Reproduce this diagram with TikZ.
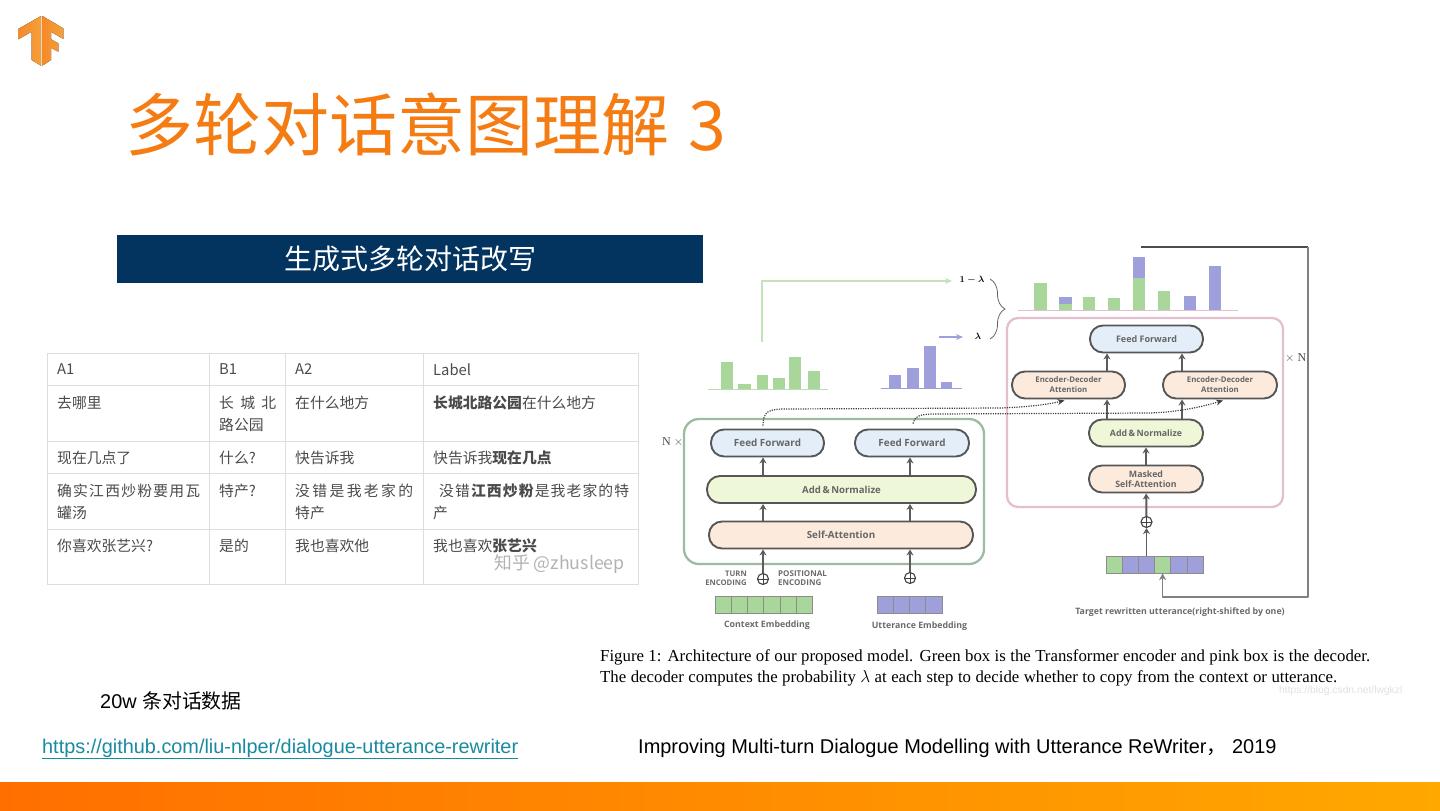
\documentclass[tikz,border=0pt]{standalone}
\usepackage{fontspec}
\setmainfont{Liberation Sans}
\newfontfamily\cjk{Noto Sans CJK SC}
\newfontfamily\capfont{Liberation Serif}
\newfontfamily\boxfont{Open Sans}
\usetikzlibrary{arrows.meta,decorations.pathreplacing}
\definecolor{tforange}{HTML}{F57C12}
\definecolor{logoleft}{HTML}{F58A2A}
\definecolor{logoright}{HTML}{F5A03C}
\definecolor{barleft}{HTML}{FF6F00}
\definecolor{barright}{HTML}{FFA800}
\definecolor{bannerblue}{HTML}{03345F}
\definecolor{gridgray}{HTML}{DEDEDE}
\definecolor{cellink}{HTML}{4A4A4A}
\definecolor{barpurple}{HTML}{9F9FDC}
\definecolor{bargreen}{HTML}{A9D69B}
\definecolor{blockedge}{HTML}{565656}
\definecolor{arrowgray}{HTML}{5C5C5C}
\definecolor{fillblue}{HTML}{E3EEF9}
\definecolor{fillgreen}{HTML}{EEF7D8}
\definecolor{fillpeach}{HTML}{FCEBDD}
\definecolor{encedge}{HTML}{9DBB9D}
\definecolor{decedge}{HTML}{E3BFD0}
\definecolor{linkteal}{HTML}{1A8AA0}
\def\sz#1{\fontsize{#1}{#1}\selectfont}
\def\spreadcell#1#2{\makebox[#1pt][s]{#2}}
\tikzset{
	textnode/.style={inner sep=0pt, anchor=west},
	cellnode/.style={textnode, text=cellink, font=\cjk\sz{14.8}},
	blockbox/.style={draw=blockedge, line width=1.9pt, rounded corners=13pt, minimum height=27pt, inner sep=0pt, align=center},
	ffbox/.style={blockbox, fill=fillblue, text=black!60, font=\boxfont\bfseries\sz{9.9}},
	addbox/.style={blockbox, fill=fillgreen, text=black!60, font=\boxfont\bfseries\sz{9.6}},
	attbox/.style={blockbox, fill=fillpeach, text=black!60, font=\boxfont\bfseries\fontsize{7.8}{10}\selectfont},
	figtext/.style={inner sep=0pt, text=black!58, font=\boxfont\bfseries\sz{8.8}, align=center},
	embgreen/.style={draw=black!45, line width=0.5pt, fill=bargreen, minimum width=16.2pt, minimum height=17pt, inner sep=0pt},
	embpurple/.style={embgreen, fill=barpurple},
	oplusnode/.style={circle, draw=black!75, line width=1.1pt, minimum size=11pt, inner sep=0pt,
		path picture={\draw[line width=0.9pt, black!75] (path picture bounding box.north) -- (path picture bounding box.south)
			(path picture bounding box.west) -- (path picture bounding box.east);}},
	uparrow/.style={draw=arrowgray, line width=2pt, -{Stealth[length=6pt,width=7pt]}},
	dotarrow/.style={draw=black!75, line width=1.2pt, dash pattern=on 1.2pt off 1.2pt, -{Stealth[length=7pt,width=6pt]}}
}

\begin{document}
\begin{tikzpicture}[x=1pt, y=-1pt]
	\useasboundingbox (0, 0) rectangle (1440, 811);
	%%%%% SLIDE %%%%%

	\shade[left color=barleft, right color=barright] (0, 782) rectangle (1440, 811);
	\fill[left color=logoleft, right color=logoright] (41, 16) -- (18.3, 29) -- (18.3, 39.3) -- (31.7, 31.7) -- (31.7, 60) -- (41, 65.7) -- cycle;
	\fill[left color=logoleft, right color=logoright] (42.3, 16) -- (63.3, 28.3) -- (63.3, 39) -- (51, 31.7) -- (51, 39.3) -- (58.3, 43.3) -- (58.3, 51.7) -- (51, 47.7) -- (51, 60) -- (42.3, 65.7) -- cycle;

	\node[textnode, text=tforange, font=\cjk\sz{68}] (title) at (125, 124) {多轮对话意图理解\hspace{19.5pt}3};

	\node[fill=bannerblue, text=white, minimum width=586pt, minimum height=48pt, inner sep=0pt, font=\cjk\sz{28}] (banner) at (410, 259) {\raisebox{-1pt}{生成式多轮对话改写}};

	%%%%% TABLE %%%%%
	\draw[gridgray, line width=0.8pt] (47, 353) rectangle (638, 584);
	\draw[gridgray, line width=0.8pt] (209.5, 353) -- (209.5, 584);
	\draw[gridgray, line width=0.8pt] (285.5, 353) -- (285.5, 584);
	\draw[gridgray, line width=0.8pt] (423.5, 353) -- (423.5, 584);
	\draw[gridgray, line width=0.8pt] (47, 385) -- (638, 385);
	\draw[gridgray, line width=0.8pt] (47, 441) -- (638, 441);
	\draw[gridgray, line width=0.8pt] (47, 473) -- (638, 473);
	\draw[gridgray, line width=0.8pt] (47, 529) -- (638, 529);

	\node[cellnode] (headA) at (57, 369.5) {A1};
	\node[cellnode] (headB) at (219, 369.5) {B1};
	\node[cellnode] (headC) at (295, 369.5) {A2};
	\node[cellnode] (headD) at (433, 369.5) {Label};

	\node[cellnode] (rowAa) at (57, 403) {去哪里};
	\node[cellnode] (rowAb) at (219, 403) {\spreadcell{57}{长\hfil 城\hfil 北}};
	\node[cellnode] (rowAbb) at (219, 425) {路公园};
	\node[cellnode] (rowAc) at (295, 403) {在什么地方};
	\node[cellnode] (rowAd) at (433, 403) {\textbf{长城北路公园}在什么地方};

	\node[cellnode] (rowBa) at (57, 458) {现在几点了};
	\node[cellnode] (rowBb) at (219, 458) {什么?};
	\node[cellnode] (rowBc) at (295, 458) {快告诉我};
	\node[cellnode] (rowBd) at (433, 458) {快告诉我\textbf{现在几点}};

	\node[cellnode] (rowCa) at (57, 491) {\spreadcell{143}{确\hfil 实\hfil 江\hfil 西\hfil 炒\hfil 粉\hfil 要\hfil 用\hfil 瓦}};
	\node[cellnode] (rowCaa) at (57, 513) {罐汤};
	\node[cellnode] (rowCb) at (219, 491) {特产?};
	\node[cellnode] (rowCc) at (295, 491) {\spreadcell{118}{没\hfil 错\hfil 是\hfil 我\hfil 老\hfil 家\hfil 的}};
	\node[cellnode] (rowCcc) at (295, 513) {特产};
	\node[cellnode] (rowCd) at (439, 491) {\spreadcell{190}{没\hfil 错\hfil \textbf{江}\hfil \textbf{西}\hfil \textbf{炒}\hfil \textbf{粉}\hfil 是\hfil 我\hfil 老\hfil 家\hfil 的\hfil 特}};
	\node[cellnode] (rowCdd) at (433, 513) {产};

	\node[cellnode] (rowDa) at (57, 546) {你喜欢张艺兴?};
	\node[cellnode] (rowDb) at (219, 546) {是的};
	\node[cellnode] (rowDc) at (295, 546) {我也喜欢他};
	\node[cellnode] (rowDd) at (433, 546) {我也喜欢\textbf{张艺兴}};
	\node[textnode, text=black!30, font=\cjk\sz{17.8}] (zhihu) at (494, 564.5) {知乎 @zhusleep};

	%%%%% BARS %%%%%
	\draw[bargreen!80, line width=0.8pt] (708, 389) -- (828, 389);
	\fill[bargreen] (721, 362) rectangle (733, 389);
	\fill[bargreen] (738, 384) rectangle (751, 389);
	\fill[bargreen] (757, 375) rectangle (768, 389);
	\fill[bargreen] (773, 378) rectangle (785, 389);
	\fill[bargreen] (789, 357) rectangle (801, 389);
	\fill[bargreen] (808, 371) rectangle (820, 389);

	\draw[barpurple, line width=0.8pt] (881, 388) -- (962, 388);
	\fill[barpurple] (889, 375) rectangle (901, 388);
	\fill[barpurple] (907, 368) rectangle (919, 388);
	\fill[barpurple] (924, 346) rectangle (936, 388);
	\fill[barpurple] (941, 382) rectangle (952, 388);

	\draw[decedge, line width=0.7pt] (1018, 310) -- (1238, 310);
	\fill[bargreen] (1034, 283) rectangle (1047, 310);
	\fill[bargreen] (1059, 304) rectangle (1072, 310);
	\fill[barpurple] (1059, 297) rectangle (1072, 304);
	\fill[bargreen] (1083, 297) rectangle (1095, 310);
	\fill[bargreen] (1108, 298) rectangle (1120, 310);
	\fill[bargreen] (1133, 278) rectangle (1145, 310);
	\fill[barpurple] (1133, 257) rectangle (1145, 278);
	\fill[bargreen] (1158, 291) rectangle (1170, 310);
	\fill[barpurple] (1184, 296) rectangle (1196, 310);
	\fill[barpurple] (1209, 266) rectangle (1221, 310);

	%%%%% ENCODER %%%%%
	\draw[draw=encedge, line width=2.3pt, rounded corners=15pt] (684, 419) rectangle (984, 564);
	\node[textnode, font=\capfont\sz{12}, text=black!70] (encN) at (662, 442) {N $\times$};

	\node[ffbox, minimum width=113pt] (ffL) at (767.5, 443) {Feed Forward};
	\node[ffbox, minimum width=114pt] (ffR) at (912, 443) {Feed Forward};
	\node[addbox, minimum width=269pt] (addEnc) at (841.5, 489.5) {Add\,\&\,Normalize};
	\node[attbox, font=\boxfont\bfseries\sz{9.8}, minimum width=264pt] (selfEnc) at (841, 535) {Self-Attention};

	\node[oplusnode] (plusL) at (763, 579) {};
	\node[oplusnode] (plusR) at (910, 578) {};
	\coordinate (colL) at (763, 0);
	\coordinate (colR) at (910, 0);

	\draw[uparrow] (plusL) -- (selfEnc.south -| colL);
	\draw[uparrow] (plusR) -- (selfEnc.south -| colR);
	\draw[uparrow] (selfEnc.north -| colL) -- (addEnc.south -| colL);
	\draw[uparrow] (selfEnc.north -| colR) -- (addEnc.south -| colR);
	\draw[uparrow] (addEnc.north -| colL) -- (ffL.south -| colL);
	\draw[uparrow] (addEnc.north -| colR) -- (ffR.south -| colR);

	\node[figtext, anchor=east, align=right, font=\boxfont\bfseries\sz{7.7}] (turnLab) at (747, 578.5) {TURN\\[1pt]ENCODING};
	\node[figtext, anchor=west, align=left, font=\boxfont\bfseries\sz{8}] (posLab) at (778, 578.5) {POSITIONAL\\[1pt]ENCODING};

	\node[embgreen] (ctxA) at (723.1, 605) {};
	\node[embgreen] (ctxB) at (739.3, 605) {};
	\node[embgreen] (ctxC) at (755.5, 605) {};
	\node[embgreen] (ctxD) at (771.7, 605) {};
	\node[embgreen] (ctxE) at (787.9, 605) {};
	\node[embgreen] (ctxF) at (804.1, 605) {};
	\node[embpurple] (uttA) at (885.1, 605) {};
	\node[embpurple] (uttB) at (901.3, 605) {};
	\node[embpurple] (uttC) at (917.5, 605) {};
	\node[embpurple] (uttD) at (933.7, 605) {};
	\node[figtext] (ctxLab) at (767, 625) {Context Embedding};
	\node[figtext] (uttLab) at (919.5, 626) {Utterance Embedding};

	%%%%% DECODER %%%%%
	\draw[draw=decedge, line width=2.3pt, rounded corners=11pt] (1007, 318) rectangle (1283, 507);
	\node[textnode, font=\capfont\sz{12}, text=black!70] (decN) at (1285, 358) {$\times$ N};

	\node[ffbox, font=\boxfont\bfseries\sz{9}, minimum width=113pt] (ffDec) at (1146.5, 339) {Feed Forward};
	\node[attbox, minimum width=113pt] (edL) at (1068.5, 385) {Encoder-Decoder\\Attention};
	\node[attbox, minimum width=114pt] (edR) at (1220, 385) {Encoder-Decoder\\Attention};
	\node[addbox, font=\boxfont\bfseries\sz{8.8}, minimum width=114pt] (addDec) at (1146, 433) {Add\,\&\,Normalize};
	\node[attbox, font=\boxfont\bfseries\fontsize{8.8}{10.5}\selectfont, minimum width=114pt] (maskDec) at (1146, 479) {Masked\\Self-Attention};
	\node[oplusnode] (plusDec) at (1146.5, 522) {};

	\node[embgreen] (tgtA) at (1114, 564.5) {};
	\node[embpurple] (tgtB) at (1130.2, 564.5) {};
	\node[embpurple] (tgtC) at (1146.4, 564.5) {};
	\node[embgreen] (tgtD) at (1162.6, 564.5) {};
	\node[embpurple] (tgtE) at (1178.8, 564.5) {};
	\node[embpurple] (tgtF) at (1195, 564.5) {};
	\node[figtext] (tgtLab) at (1180, 612) {Target rewritten utterance(right-shifted by one)};

	\coordinate (colA) at (1107, 0);
	\coordinate (colB) at (1182, 0);
	\draw[uparrow] (edL.north -| colA) -- (ffDec.south -| colA);
	\draw[uparrow] (edR.north -| colB) -- (ffDec.south -| colB);
	\draw[uparrow] (addDec.north -| colA) -- (edL.south -| colA);
	\draw[uparrow] (addDec.north -| colB) -- (edR.south -| colB);
	\draw[uparrow] (maskDec) -- (addDec);
	\draw[uparrow] (plusDec) -- (maskDec);
	\draw[uparrow, line width=1.2pt] (tgtC.north -| plusDec) -- (plusDec);

	\coordinate (loopTop) at (1141, 247);
	\coordinate (loopCorner) at (1308, 247);
	\coordinate (loopBack) at (1308, 597);
	\draw[black!70, line width=1.1pt] (loopTop) -- (loopCorner);
	\draw[black!50, line width=1.6pt, line join=round, -{Stealth[length=7pt,width=7pt]}] (loopCorner) -- (loopBack) -| (tgtD.south);

	\draw[dotarrow] (ffL.north -| colL) ++(0, -3) .. controls (763, 412) and (768, 409) .. (785, 409) -- (1000, 408) .. controls (1030, 407) and (1050, 404) .. ([xshift=-4pt, yshift=-1pt]edL.south);
	\draw[dotarrow] (ffR.north) ++(1, -5) .. controls (915, 416) and (920, 414) .. (935, 414) -- (1150, 413) .. controls (1180, 412) and (1205, 406) .. ([xshift=3pt, yshift=-1pt]edR.south);

	%%%%% LAMBDA %%%%%
	\node[inner sep=0pt, font=\sz{9.5}\boldmath] (oneLam) at (972, 280) {$1-\lambda$};
	\node[inner sep=0pt, font=\sz{9.5}\boldmath] (lam) at (978, 336) {$\lambda$};
	\coordinate (greenFoot) at (762, 342);
	\coordinate (greenBend) at (762, 281);
	\coordinate (greenTip) at (952, 281);
	\coordinate (purpleFoot) at (939, 337);
	\coordinate (purpleTip) at (963, 337);
	\draw[draw=bargreen!70, line width=1.4pt, -{Stealth[length=7pt,width=6pt]}] (greenFoot) -- (greenBend) -- (greenTip);
	\draw[draw=barpurple, line width=1.2pt, -{Stealth[length=7pt,width=6pt]}] (purpleFoot) -- (purpleTip);
	\coordinate (braceTop) at (990, 279);
	\coordinate (braceEnd) at (990, 339);
	\draw[black!60, line width=0.8pt, decorate, decoration={brace, amplitude=15pt, aspect=0.5}] (braceTop) -- (braceEnd);

	%%%%% TEXT %%%%%
	\node[textnode, anchor=base west, font=\capfont\sz{16.8}] (capA) at (600, 661) {\spreadcell{770}{Figure 1: Architecture of our proposed model. Green box is the Transformer encoder and pink box is the decoder.}};
	\node[textnode, anchor=base west, font=\capfont\sz{16.8}] (capB) at (600, 682) {\spreadcell{737}{The decoder computes the probability $\lambda$ at each step to decide whether to copy from the context or utterance.}};
	\node[textnode, text=black!12, font=\sz{10.3}] (csdn) at (1279, 691) {https://blog.csdn.net/lwgkzl};

	\node[textnode, anchor=base west, font=\sz{19.9}] (dataNote) at (100, 708) {20w {\cjk 条对话数据}};
	\node[textnode, anchor=base west, text=linkteal, font=\sz{19.87}] (repoLink) at (42, 753) {\underline{https://github.com/liu-nlper/dialogue-utterance-rewriter}};
	\node[textnode, anchor=base west, font=\sz{19.95}] (paperNote) at (638, 753) {Improving Multi-turn Dialogue Modelling with Utterance ReWriter{\cjk ，} 2019};

	%%%%% END %%%%%
\end{tikzpicture}
\end{document}
